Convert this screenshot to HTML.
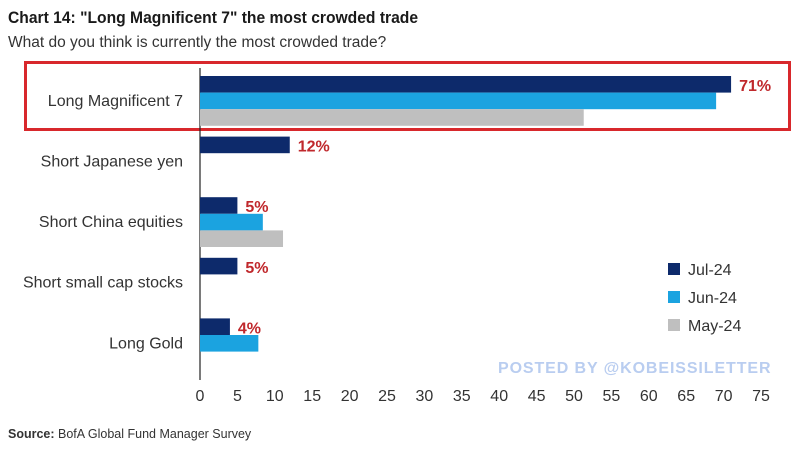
<!DOCTYPE html>
<html><head><meta charset="utf-8">
<style>
body{margin:0;background:#fff;width:801px;height:451px;overflow:hidden;font-family:"Liberation Sans",sans-serif}
svg{display:block}
</style></head>
<body>
<svg width="801" height="451" id="c">
<text x="8" y="23" font-size="17" font-weight="bold" fill="#1a1a1a" transform="scale(0.92,1)" style="transform-origin:8px 23px">Chart 14: "Long Magnificent 7" the most crowded trade</text>
<text x="8" y="47" font-size="15.5" fill="#333">What do you think is currently the most crowded trade?</text>
<rect x="25.5" y="62.5" width="764" height="67" fill="none" stroke="#d8282c" stroke-width="3"/>
<line x1="200" y1="68" x2="200" y2="380" stroke="#222" stroke-width="1.2"/>
<g id="bars"></g>
<g id="xt"></g>
<g>
<rect x="668" y="263" width="12" height="12" fill="#0d2a6b"/>
<text x="688" y="275" font-size="16" fill="#333">Jul-24</text>
<rect x="668" y="291" width="12" height="12" fill="#1ba3e0"/>
<text x="688" y="303" font-size="16" fill="#333">Jun-24</text>
<rect x="668" y="319" width="12" height="12" fill="#bfbfbf"/>
<text x="688" y="331" font-size="16" fill="#333">May-24</text>
</g>
<text x="498" y="373" font-size="16" font-weight="bold" fill="#b9cdf0" letter-spacing="0.9">POSTED BY @KOBEISSILETTER</text>
<text x="8" y="438" font-size="12.5" fill="#333"><tspan font-weight="bold">Source:</tspan> BofA Global Fund Manager Survey</text>
</svg>
<script>
const categories=["Long Magnificent 7","Short Japanese yen","Short China equities","Short small cap stocks","Long Gold"];
const jul=[71,12,5,5,4];
const jun=[69,null,8.4,null,7.8];
const may=[51.3,null,11.1,null,null];
const labels=["71%","12%","5%","5%","4%"];
const ticks=[0,5,10,15,20,25,30,35,40,45,50,55,60,65,70,75];
const NS="http://www.w3.org/2000/svg";
const x=v=>200+v*7.48;
const catTop=i=>76+i*60.6;
const bh=16.6;
const g=document.getElementById('bars');
function mk(t,a){const e=document.createElementNS(NS,t);for(const k in a)e.setAttribute(k,a[k]);return e;}
const series=[[jul,"#0d2a6b","jul"],[jun,"#1ba3e0","jun"],[may,"#bfbfbf","may"]];
categories.forEach((c,i)=>{
  const t=mk('text',{x:183,y:catTop(i)+bh*1.5+5,'font-size':16,fill:'#333','text-anchor':'end'});
  t.textContent=c;
  
  
  g.appendChild(t);
  series.forEach((s,j)=>{
    const v=s[0][i]; if(v==null)return;
    const r=mk('rect',{x:200,y:catTop(i)+j*bh,width:x(v)-200,height:bh,fill:s[1]});
    
    
    g.appendChild(r);
  });
  const l=mk('text',{x:x(jul[i])+8,y:catTop(i)+15,'font-size':16,'font-weight':'bold',fill:'#c0282c'});
  l.textContent=labels[i];
  
  
  g.appendChild(l);
});
const xt=document.getElementById('xt');
ticks.forEach(v=>{
  const t=mk('text',{x:x(v),y:401,'font-size':16,fill:'#333','text-anchor':'middle'});
  t.textContent=v;
  
  
  xt.appendChild(t);
});
</script>
</body></html>
